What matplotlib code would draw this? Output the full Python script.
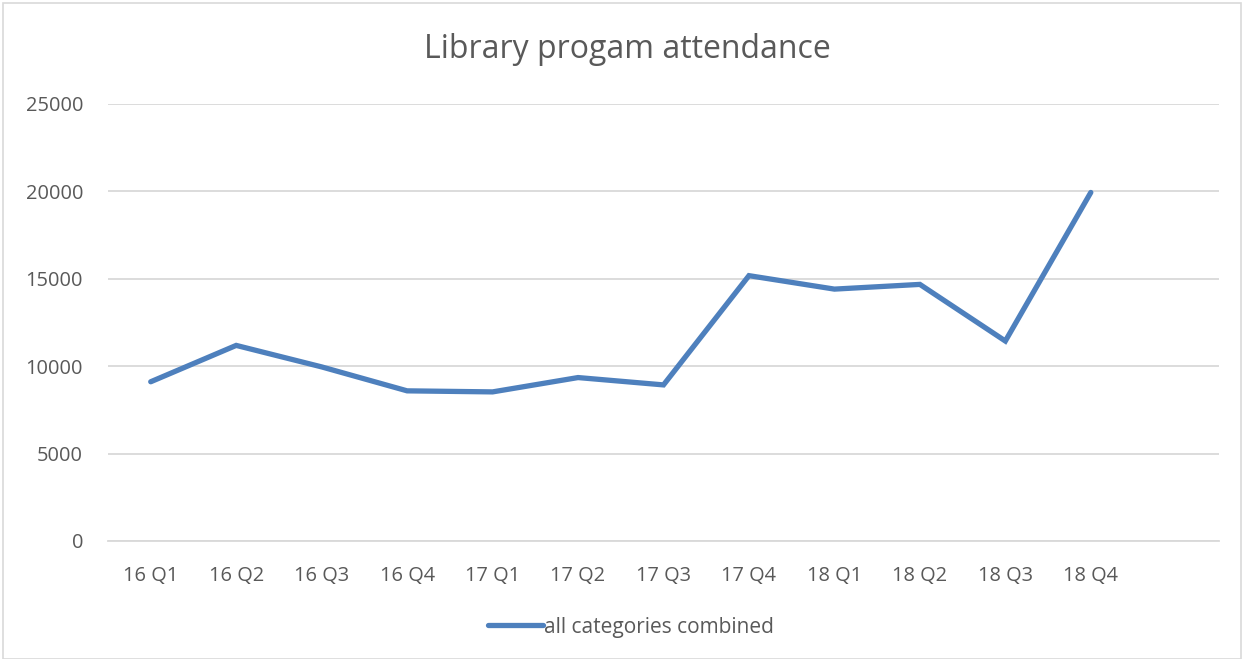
import matplotlib
matplotlib.use("Agg")
import matplotlib.pyplot as plt
from matplotlib.patches import Rectangle

categories = ["16 Q1", "16 Q2", "16 Q3", "16 Q4", "17 Q1", "17 Q2",
              "17 Q3", "17 Q4", "18 Q1", "18 Q2", "18 Q3", "18 Q4"]
attendance = [9110, 11190, 9960, 8590, 8530, 9350,
              8930, 15180, 14410, 14680, 11440, 19940]
yticks = [0, 5000, 10000, 15000, 20000, 25000]
series_name = "all categories combined"
title = "Library progam attendance"

plt.rcParams['font.family'] = ['Open Sans', 'DejaVu Sans']
W, H = 1244, 659
fig = plt.figure(figsize=(W / 100, H / 100), dpi=100)
fig.patch.set_facecolor('white')
fig.patches.append(Rectangle((3 / W, 0), (W - 6) / W, (H - 3) / H, transform=fig.transFigure,
                             fill=False, edgecolor='#D9D9D9', linewidth=1.2))

ax = fig.add_axes([108 / W, 1 - 541 / H, (1219 - 108) / W, (541 - 104) / H])
x = list(range(len(categories)))
line_color = '#4E80BD'
ax.plot(x, attendance, color=line_color, linewidth=3.8, solid_capstyle='round',
        solid_joinstyle='miter', label=series_name, zorder=3)

ax.set_xlim(-0.5, len(categories) + 0.5)
ax.set_ylim(0, 25000)
ax.set_yticks(yticks)
ax.set_yticklabels([str(v) for v in yticks])
ax.set_xticks(x)
ax.set_xticklabels(categories)
ax.grid(axis='y', color='#D9D9D9', linewidth=1.3, zorder=0)
ax.set_axisbelow(True)
for s in ['top', 'right', 'left']:
    ax.spines[s].set_visible(False)
ax.spines['bottom'].set_color('#D9D9D9')
ax.spines['bottom'].set_linewidth(1.3)
ax.tick_params(axis='both', length=0, labelsize=14.4, colors='#595959')
ax.tick_params(axis='x', pad=18)
ax.tick_params(axis='y', pad=18)

fig.text(627 / W, 1 - 50 / H, title, ha='center', va='center', fontsize=23, color='#595959')

leg = ax.legend(loc='center', bbox_to_anchor=(631 / W, 1 - 627 / H), bbox_transform=fig.transFigure,
                frameon=False, fontsize=15, handlelength=2.6, handletextpad=0.05)
for t in leg.get_texts():
    t.set_color('#595959')

fig.savefig('out.png', dpi=100, facecolor='white')
